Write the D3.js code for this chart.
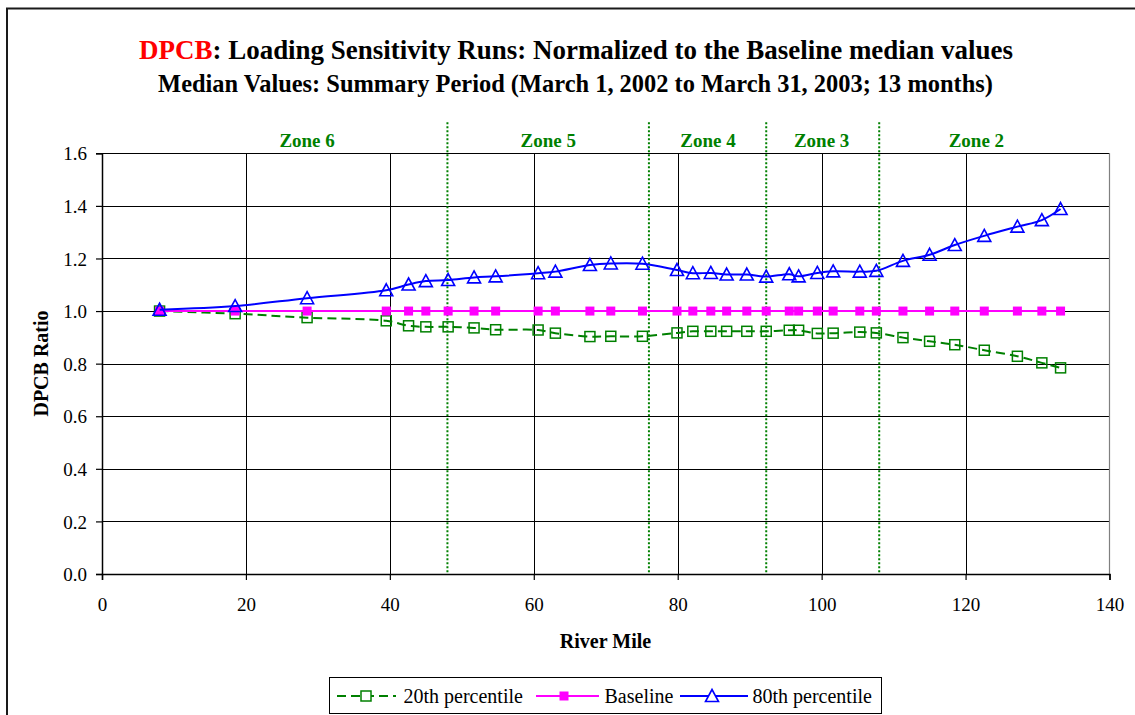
<!DOCTYPE html>
<html><head><meta charset="utf-8">
<script src="https://cdn.jsdelivr.net/npm/d3@7"></script>
<style>
html,body{margin:0;padding:0;background:#fff;}
svg{display:block;}
text{font-family:"Liberation Serif","Times New Roman",serif;}
</style></head>
<body>
<svg id="chart" width="1135" height="715"></svg>
<script>
// ---- data ----
const riverMile = [8.0,18.5,28.5,39.5,42.6,45.0,48.1,51.7,54.7,60.6,63.0,67.8,70.7,75.1,79.9,82.1,84.6,86.8,89.6,92.3,95.5,96.8,99.4,101.6,105.3,107.6,111.3,115.0,118.5,122.6,127.2,130.6,133.2];
const pct20 = [1.000,0.990,0.975,0.963,0.944,0.940,0.940,0.936,0.929,0.928,0.916,0.903,0.904,0.904,0.917,0.923,0.923,0.923,0.923,0.923,0.927,0.927,0.915,0.916,0.920,0.917,0.899,0.885,0.872,0.851,0.828,0.803,0.784];
const baseline = [1.0,1.0,1.0,1.0,1.0,1.0,1.0,1.0,1.0,1.0,1.0,1.0,1.0,1.0,1.0,1.0,1.0,1.0,1.0,1.0,1.0,1.0,1.0,1.0,1.0,1.0,1.0,1.0,1.0,1.0,1.0,1.0,1.0];
const pct80 = [1.005,1.019,1.049,1.079,1.101,1.114,1.118,1.128,1.132,1.144,1.150,1.175,1.181,1.180,1.156,1.144,1.145,1.139,1.139,1.131,1.140,1.132,1.145,1.151,1.150,1.153,1.191,1.214,1.251,1.286,1.321,1.346,1.388];
const seriesNames = ["20th percentile","Baseline","80th percentile"];
const xTicks = [0,20,40,60,80,100,120,140];
const yTicks = [0.0,0.2,0.4,0.6,0.8,1.0,1.2,1.4,1.6];
const zoneBounds = [48,76,92.3,108];
const zoneNames = ["Zone 6","Zone 5","Zone 4","Zone 3","Zone 2"];
const zoneLabelX = [28.5,62,84.2,100,121.5];
const titleRed = "DPCB";
const titleRest = ": Loading Sensitivity Runs: Normalized to the Baseline median values";
const subtitle = "Median Values: Summary Period (March 1, 2002 to March 31, 2003; 13 months)";
const xTitle = "River Mile";
const yTitle = "DPCB Ratio";

// ---- layout ----
const svg = d3.select("#chart");
const L = 102, R = 1109.5, T = 153.3, B = 574;
const x = d3.scaleLinear().domain([0,140]).range([L,R]);
const y = d3.scaleLinear().domain([0,1.6]).range([B,T]);
const GREEN = "#008000", MAG = "#FF00FF", BLUE = "#0000FF";

// outer frame
svg.append("rect").attr("x",7).attr("y",8.5).attr("width",1300).attr("height",900)
  .attr("fill","#fff").attr("stroke","#1a1a1a").attr("stroke-width",2);

// title
function fitText(sel, target){
  const w = sel.node().getComputedTextLength();
  const fs = parseFloat(sel.attr("font-size"));
  sel.attr("font-size", (fs*target/w).toFixed(2));
}
const t1 = svg.append("text").attr("x",576).attr("y",59).attr("text-anchor","middle")
  .attr("font-weight","bold").attr("font-size",22);
t1.append("tspan").attr("fill","#FF0000").text(titleRed);
t1.append("tspan").attr("fill","#000").text(titleRest);
fitText(t1, 874);
const t2 = svg.append("text").attr("x",575.5).attr("y",91.5).attr("text-anchor","middle")
  .attr("font-weight","bold").attr("font-size",20).attr("fill","#000").text(subtitle);
fitText(t2, 835);

// plot background
svg.append("rect").attr("x",L).attr("y",T).attr("width",R-L).attr("height",B-T).attr("fill","#fff");

// gridlines
svg.append("g").selectAll("line").data(yTicks.filter(d=>d>0)).join("line")
  .attr("x1",L).attr("x2",R).attr("y1",d=>Math.round(y(d))+0.5).attr("y2",d=>Math.round(y(d))+0.5)
  .attr("stroke","#000").attr("stroke-width",1);
svg.append("g").selectAll("line").data(xTicks.filter(d=>d>0&&d<140)).join("line")
  .attr("y1",T).attr("y2",B).attr("x1",d=>Math.round(x(d))+0.5).attr("x2",d=>Math.round(x(d))+0.5)
  .attr("stroke","#000").attr("stroke-width",1);
// right border
svg.append("line").attr("x1",R).attr("x2",R).attr("y1",T).attr("y2",B).attr("stroke","#808080").attr("stroke-width",1.2);

// zone lines
svg.append("g").selectAll("line").data(zoneBounds).join("line")
  .attr("x1",d=>x(d)).attr("x2",d=>x(d)).attr("y1",T-31).attr("y2",B)
  .attr("stroke",GREEN).attr("stroke-width",2).attr("stroke-dasharray","2,2");
svg.append("g").selectAll("text").data(zoneNames).join("text")
  .attr("x",(d,i)=>x(zoneLabelX[i])).attr("y",147).attr("text-anchor","middle")
  .attr("font-weight","bold").attr("font-size",19).attr("fill",GREEN).text(d=>d);

// axes
const yAxis = d3.axisLeft(y).tickValues(yTicks).tickFormat(d3.format(".1f")).tickSize(6).tickPadding(9);
const gy = svg.append("g").attr("transform",`translate(${L},0)`).call(yAxis);
const xAxis = d3.axisBottom(x).tickValues(xTicks).tickFormat(d3.format("d")).tickSize(6).tickPadding(18);
const gx = svg.append("g").attr("transform",`translate(0,${B})`).call(xAxis);
[gx,gy].forEach(g=>{
  g.select(".domain").attr("stroke","#000").attr("stroke-width",1.5);
  g.selectAll(".tick line").attr("stroke","#000").attr("stroke-width",1.2);
  g.selectAll(".tick text").attr("font-family","Liberation Serif, serif").attr("font-size",19).attr("fill","#000");
});
gy.selectAll(".tick text").attr("dy","0.35em");

svg.append("text").attr("x",605.5).attr("y",648).attr("text-anchor","middle")
  .attr("font-weight","bold").attr("font-size",20).text(xTitle);
svg.append("text").attr("transform","translate(48,363.5) rotate(-90)").attr("text-anchor","middle")
  .attr("font-weight","bold").attr("font-size",20).text(yTitle);

// series
const line = d3.line().x(d=>x(d[0])).y(d=>y(d[1])).curve(d3.curveCatmullRom.alpha(0.5));
const d20 = riverMile.map((m,i)=>[m,pct20[i]]);
const dBase = riverMile.map((m,i)=>[m,baseline[i]]);
const d80 = riverMile.map((m,i)=>[m,pct80[i]]);

const gPlot = svg.append("g");
gPlot.append("path").datum(d20).attr("d",line).attr("fill","none").attr("stroke",GREEN)
  .attr("stroke-width",2).attr("stroke-dasharray","9,5");
gPlot.append("g").selectAll("rect").data(d20).join("rect")
  .attr("x",d=>x(d[0])-5).attr("y",d=>y(d[1])-5).attr("width",10).attr("height",10)
  .attr("fill","none").attr("stroke",GREEN).attr("stroke-width",1.5);

gPlot.append("path").datum(dBase).attr("d",line).attr("fill","none").attr("stroke",MAG).attr("stroke-width",2);
gPlot.append("g").selectAll("rect").data(dBase).join("rect")
  .attr("x",d=>x(d[0])-4.5).attr("y",d=>y(d[1])-4.5).attr("width",9).attr("height",9)
  .attr("fill",MAG).attr("stroke","none");

gPlot.append("path").datum(d80).attr("d",line).attr("fill","none").attr("stroke",BLUE).attr("stroke-width",2);
const tri = "M0,-6.5L6.5,5.5L-6.5,5.5Z";
gPlot.append("g").selectAll("path").data(d80).join("path")
  .attr("d",tri).attr("transform",d=>`translate(${x(d[0])},${y(d[1])})`)
  .attr("fill","none").attr("stroke",BLUE).attr("stroke-width",1.6);

// legend
const lg = svg.append("g");
lg.append("rect").attr("x",329.5).attr("y",677.5).attr("width",552).attr("height",36)
  .attr("fill","#fff").attr("stroke","#000").attr("stroke-width",1);
const legendItems = [
  {name:seriesNames[0], x1:337, x2:396, mx:366, tx:403.5, color:GREEN, dash:"9,5", mk:"sq-open"},
  {name:seriesNames[1], x1:536, x2:599, mx:564, tx:604.5, color:MAG, dash:null, mk:"sq-fill"},
  {name:seriesNames[2], x1:680, x2:748, mx:712, tx:752.5, color:BLUE, dash:null, mk:"tri"}
];
const ly = 696;
legendItems.forEach(it=>{
  lg.append("line").attr("x1",it.x1).attr("x2",it.x2).attr("y1",ly).attr("y2",ly)
    .attr("stroke",it.color).attr("stroke-width",2).attr("stroke-dasharray",it.dash);
  if(it.mk==="sq-open") lg.append("rect").attr("x",it.mx-5).attr("y",ly-5).attr("width",10).attr("height",10)
    .attr("fill","#fff").attr("stroke",it.color).attr("stroke-width",1.5);
  if(it.mk==="sq-fill") lg.append("rect").attr("x",it.mx-4.5).attr("y",ly-4.5).attr("width",9).attr("height",9).attr("fill",it.color);
  if(it.mk==="tri") lg.append("path").attr("d",tri).attr("transform",`translate(${it.mx},${ly})`)
    .attr("fill","#fff").attr("stroke",it.color).attr("stroke-width",1.6);
  lg.append("text").attr("x",it.tx).attr("y",ly+6.5).attr("font-size",20).text(it.name);
});
</script>
</body></html>
